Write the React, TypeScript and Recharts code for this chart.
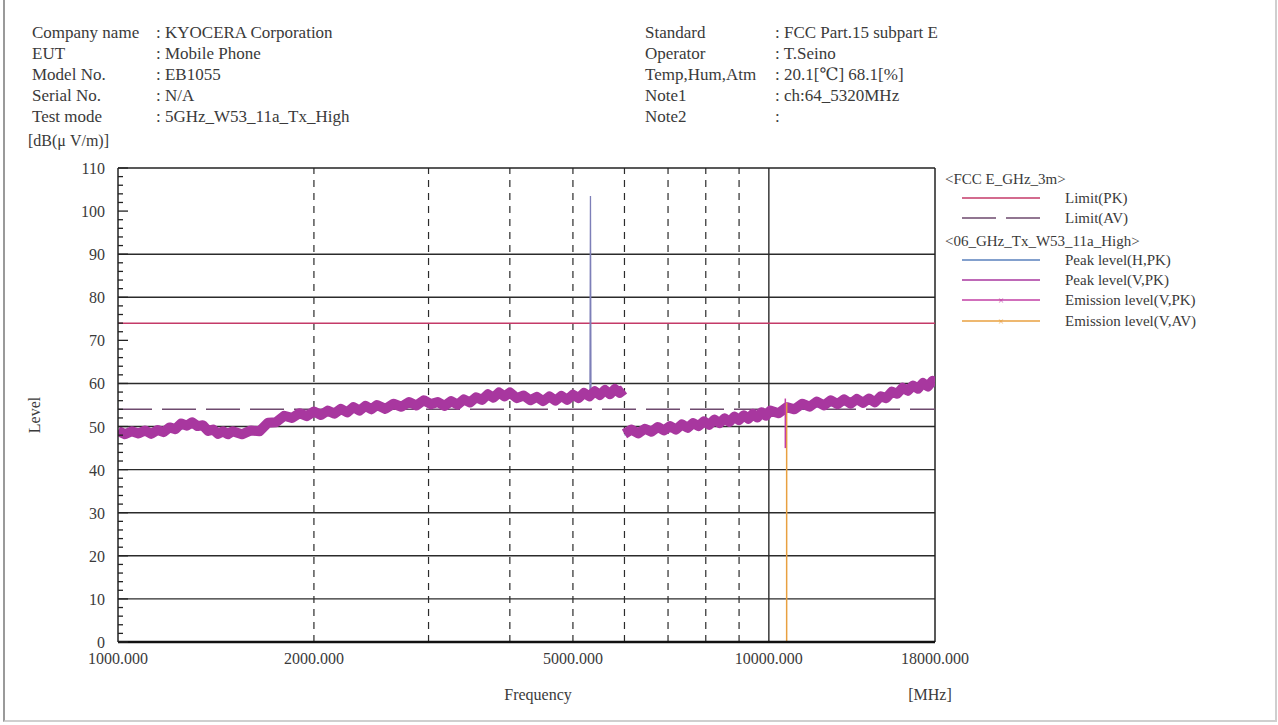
import { LineChart, Line, XAxis, YAxis, ReferenceLine } from "recharts"

// frequency [MHz] / level [dB(uV/m)]
const lowFreq = [
  1000, 1025, 1050, 1075, 1100, 1125, 1150, 1175, 1200, 1225, 1250, 1275, 1300, 1325, 1350, 1375, 1400, 1425, 1450, 1475,
  1500, 1550, 1600, 1650, 1700, 1750, 1800, 1850, 1900, 1950, 2000, 2050, 2100, 2150, 2200, 2250, 2300, 2350, 2400, 2450,
  2500, 2575, 2650, 2725, 2800, 2875, 2950, 3025, 3100, 3175, 3250, 3325, 3400, 3475, 3550, 3625, 3700, 3775, 3850, 3925,
  4000, 4100, 4200, 4300, 4400, 4500, 4600, 4700, 4800, 4900, 5000, 5100, 5200, 5300, 5400, 5500, 5600, 5700, 5800, 5900, 5990,
]
const lowPeakV = [
  49.0, 48.2, 48.9, 48.4, 49.1, 48.3, 49.2, 48.7, 49.8, 49.4, 50.7, 50.2, 51.0, 50.1, 50.3, 49.0, 49.3, 48.3, 48.9, 48.2,
  48.9, 48.2, 49.1, 48.9, 50.9, 51.0, 52.5, 52.0, 53.1, 52.4, 53.5, 52.7, 53.7, 53.0, 54.1, 53.3, 54.5, 53.7, 54.8, 54.0,
  55.0, 54.1, 55.3, 54.6, 55.7, 54.9, 56.1, 55.2, 55.7, 54.8, 55.9, 55.1, 56.3, 55.6, 56.8, 56.2, 57.5, 56.7, 57.9, 57.0,
  57.9, 56.6, 57.2, 56.1, 56.9, 55.9, 57.0, 56.0, 57.1, 56.2, 57.4, 56.6, 57.8, 57.0, 58.2, 57.3, 58.5, 57.5, 58.7, 57.8, 58.6,
]
const highFreq = [
  6000, 6150, 6300, 6450, 6600, 6750, 6900, 7050, 7200, 7350, 7500, 7650, 7800, 7950, 8100, 8250, 8400, 8550, 8700, 8850,
  9000, 9150, 9300, 9450, 9600, 9750, 9900, 10050, 10350, 10650, 10950, 11250, 11550, 11850, 12150, 12450, 12750, 13050,
  13350, 13650, 13950, 14250, 14550, 14850, 15150, 15450, 15750, 16050, 16350, 16650, 16950, 17250, 17550, 17850, 18000,
]
const highPeakV = [
  48.3, 49.3, 48.4, 49.5, 48.8, 49.9, 49.1, 50.1, 49.3, 50.5, 49.7, 50.8, 50.1, 51.2, 50.4, 51.6, 50.8, 51.9, 51.1, 52.3,
  51.5, 52.6, 51.8, 52.9, 52.1, 53.3, 52.5, 53.7, 53.1, 54.5, 54.0, 55.3, 54.6, 55.8, 54.9, 56.1, 55.2, 56.3,
  55.3, 56.4, 55.5, 56.5, 55.6, 57.0, 56.6, 58.1, 57.6, 59.0, 58.3, 59.5, 58.8, 60.1, 59.3, 60.6, 60.2,
]
const lowFreqH = [1000, 1100, 1200, 1300, 1400, 1500, 1600, 1700, 1800, 1900, 2000, 2200, 2400, 2600, 2800, 3000, 3200, 3400, 3600, 3800, 4000, 4300, 4600, 5000, 5310, 5320, 5330, 5700, 5990]
const lowPeakH = [48.0, 48.1, 48.7, 50.1, 48.4, 47.9, 48.1, 49.9, 51.4, 52.1, 52.4, 53.0, 53.7, 54.2, 54.6, 55.1, 54.6, 55.2, 56.0, 56.6, 56.9, 56.1, 55.8, 56.3, 57.1, 103.5, 57.2, 57.4, 57.8]
const highFreqH = [6000, 6500, 7000, 7500, 8000, 8500, 9000, 9500, 10000, 10800, 11500, 12800, 14500, 15300, 16600, 18000]
const highPeakH = [48.1, 48.5, 49.0, 49.5, 50.1, 50.7, 51.3, 51.8, 52.4, 53.6, 54.4, 55.0, 55.4, 56.7, 58.3, 59.5]

const limitPk = 74
const limitAv = 54
const emissionFreqPk = 10600
const emissionPk = [45, 56.5]
const emissionFreqAv = 10650
const emissionAv = [0, 55.5]

const xTicks = [1000, 2000, 5000, 10000, 18000]
const hGrid = [10, 20, 30, 40, 50, 60, 80, 90]
const vGridDashed = [2000, 3000, 4000, 5000, 6000, 7000, 8000, 9000]
const vGridSolid = [10000]

const headerLeft = [
  ["Company name", ": KYOCERA Corporation"],
  ["EUT", ": Mobile Phone"],
  ["Model No.", ": EB1055"],
  ["Serial No.", ": N/A"],
  ["Test mode", ": 5GHz_W53_11a_Tx_High"],
]
const headerRight = [
  ["Standard", ": FCC Part.15 subpart E"],
  ["Operator", ": T.Seino"],
  ["Temp,Hum,Atm", ": 20.1[\u2103] 68.1[%]"],
  ["Note1", ": ch:64_5320MHz"],
  ["Note2", ":"],
]

const toRows = (f: number[], v: number[]) => f.map((freq, i) => ({ freq, v: v[i] }))
const lowV = toRows(lowFreq, lowPeakV)
const highV = toRows(highFreq, highPeakV)
const lowH = toRows(lowFreqH, lowPeakH)
const highH = toRows(highFreqH, highPeakH)
const limPkData = [{ freq: 1000, v: limitPk }, { freq: 18000, v: limitPk }]
const limAvData = [{ freq: 1000, v: limitAv }, { freq: 18000, v: limitAv }]
const emPkData = emissionPk.map((v) => ({ freq: emissionFreqPk, v }))
const emAvData = emissionAv.map((v) => ({ freq: emissionFreqAv, v }))

const FONT = '"Liberation Serif", "DejaVu Serif", serif'
const TXT = "#3a3a3a"
const PLOT_L = 118
const PLOT_B = 642

const C_H = "#5a80bc"
const C_SPIKE = "#7d7fb8"
const C_V = "#a8379f"
const C_LPK = "#c43a68"
const C_LAV = "#6e4a6e"
const C_EPK = "#c23fa4"
const C_EAV = "#e8a040"

const minorY: number[] = []
for (let i = 0; i <= 110; i += 2) minorY.push(i)

const YTick = (props: any) => {
  const { y, payload } = props
  const major = payload.value % 10 === 0
  return (
    <g>
      <line x1={PLOT_L} x2={PLOT_L + (major ? 10 : 5)} y1={y} y2={y} stroke="#222" strokeWidth={1.3} />
      {major && (
        <text x={PLOT_L - 13} y={y + 6} textAnchor="end" fontFamily={FONT} fontSize={16} fill={TXT}>
          {payload.value}
        </text>
      )}
    </g>
  )
}

const XTick = (props: any) => {
  const { x, payload } = props
  return (
    <text x={x} y={PLOT_B + 22} textAnchor="middle" fontFamily={FONT} fontSize={16} fill={TXT}>
      {payload.value.toFixed(3)}
    </text>
  )
}

const legendRows = [
  { label: "Limit(PK)", color: C_LPK, dash: undefined, mark: false },
  { label: "Limit(AV)", color: C_LAV, dash: "34 10", mark: false },
  { label: "Peak level(H,PK)", color: C_H, dash: undefined, mark: false },
  { label: "Peak level(V,PK)", color: C_V, dash: undefined, mark: false },
  { label: "Emission level(V,PK)", color: C_EPK, dash: undefined, mark: true },
  { label: "Emission level(V,AV)", color: C_EAV, dash: undefined, mark: true },
]
const legendY = [198, 218, 260, 280, 300, 321]

export default function App() {
  return (
    <div style={{ position: "fixed", left: 0, top: 0, width: 1278, height: 725, background: "#fff", fontFamily: FONT, color: TXT }}>
      <div style={{ position: "absolute", left: 3, top: -4, width: 1270, height: 724, borderLeft: "2px solid #9a9a9a", borderRight: "2px solid #cfcfcf", borderBottom: "2px solid #cfcfcf" }} />
      {headerLeft.map(([k, v], i) => (
        <div key={k} style={{ position: "absolute", top: 22 + i * 21, fontSize: 17, lineHeight: "21px" }}>
          <span style={{ position: "absolute", left: 32, whiteSpace: "nowrap" }}>{k}</span>
          <span style={{ position: "absolute", left: 156, whiteSpace: "nowrap" }}>{v}</span>
        </div>
      ))}
      {headerRight.map(([k, v], i) => (
        <div key={k} style={{ position: "absolute", top: 22 + i * 21, fontSize: 17, lineHeight: "21px" }}>
          <span style={{ position: "absolute", left: 645, whiteSpace: "nowrap" }}>{k}</span>
          <span style={{ position: "absolute", left: 775, whiteSpace: "nowrap" }}>{v}</span>
        </div>
      ))}
      <div style={{ position: "absolute", left: 28, top: 132, fontSize: 16, whiteSpace: "nowrap" }}>[dB(&mu; V/m)]</div>
      <div style={{ position: "absolute", left: 35, top: 415, fontSize: 16, transform: "translate(-50%, -50%) rotate(-90deg)" }}>Level</div>
      <div style={{ position: "absolute", left: 538, top: 686, fontSize: 16, transform: "translateX(-50%)" }}>Frequency</div>
      <div style={{ position: "absolute", left: 930, top: 686, fontSize: 16, transform: "translateX(-50%)" }}>[MHz]</div>

      <div style={{ position: "absolute", left: 0, top: 0 }}>
        <LineChart width={1278} height={725} margin={{ top: 168, right: 343, bottom: 50, left: 78 }}>
          <XAxis
            dataKey="freq"
            type="number"
            scale="log"
            domain={[1000, 18000]}
            allowDataOverflow
            ticks={xTicks}
            interval={0}
            tick={XTick}
            tickLine={false}
            axisLine={{ stroke: "#111", strokeWidth: 2.5 }}
            height={33}
          />
          <YAxis
            type="number"
            domain={[0, 110]}
            ticks={minorY}
            interval={0}
            tick={YTick}
            tickLine={false}
            axisLine={{ stroke: "#222", strokeWidth: 1.5 }}
            width={40}
            allowDataOverflow
          />
          {hGrid.map((v) => (
            <ReferenceLine key={"h" + v} y={v} stroke="#2b2b2b" strokeWidth={1.4} />
          ))}
          {vGridDashed.map((f) => (
            <ReferenceLine key={"v" + f} x={f} stroke="#2b2b2b" strokeWidth={1.2} strokeDasharray="7 6" />
          ))}
          {vGridSolid.map((f) => (
            <ReferenceLine key={"s" + f} x={f} stroke="#2b2b2b" strokeWidth={1.4} />
          ))}
          <ReferenceLine y={110} stroke="#222" strokeWidth={1.5} />
          <ReferenceLine x={18000} stroke="#222" strokeWidth={1.5} />

          <Line data={limPkData} dataKey="v" stroke={C_LPK} strokeWidth={1.5} dot={false} isAnimationActive={false} />
          <Line data={limAvData} dataKey="v" stroke={C_LAV} strokeWidth={1.5} strokeDasharray="34 10" dot={false} isAnimationActive={false} />

          <Line data={lowH} dataKey="v" stroke={C_SPIKE} strokeWidth={1.3} dot={false} isAnimationActive={false} />
          <Line data={highH} dataKey="v" stroke={C_H} strokeWidth={1.3} dot={false} isAnimationActive={false} />
          <Line data={lowV} dataKey="v" stroke={C_V} strokeWidth={10} strokeLinejoin="round" dot={false} isAnimationActive={false} />
          <Line data={highV} dataKey="v" stroke={C_V} strokeWidth={10} strokeLinejoin="round" dot={false} isAnimationActive={false} />

          <Line data={emAvData} dataKey="v" stroke={C_EAV} strokeWidth={1.5} dot={false} isAnimationActive={false} />
          <Line data={emPkData} dataKey="v" stroke={C_EPK} strokeWidth={1.5} dot={false} isAnimationActive={false} />
        </LineChart>
      </div>

      <svg style={{ position: "absolute", left: 0, top: 0 }} width={1278} height={725}>
        <text x={945} y={184} fontFamily={FONT} fontSize={15} fill={TXT}>&lt;FCC E_GHz_3m&gt;</text>
        <text x={945} y={246} fontFamily={FONT} fontSize={15} fill={TXT}>&lt;06_GHz_Tx_W53_11a_High&gt;</text>
        {legendRows.map((r, i) => (
          <g key={r.label}>
            <line x1={962} x2={1040} y1={legendY[i]} y2={legendY[i]} stroke={r.color} strokeWidth={1.5} strokeDasharray={r.dash} />
            {r.mark && (
              <text x={1001} y={legendY[i] + 4} textAnchor="middle" fontSize={10} fill={r.color} fontFamily={FONT}>&times;</text>
            )}
            <text x={1065} y={legendY[i] + 5} fontFamily={FONT} fontSize={15} fill={TXT}>{r.label}</text>
          </g>
        ))}
      </svg>
    </div>
  )
}
